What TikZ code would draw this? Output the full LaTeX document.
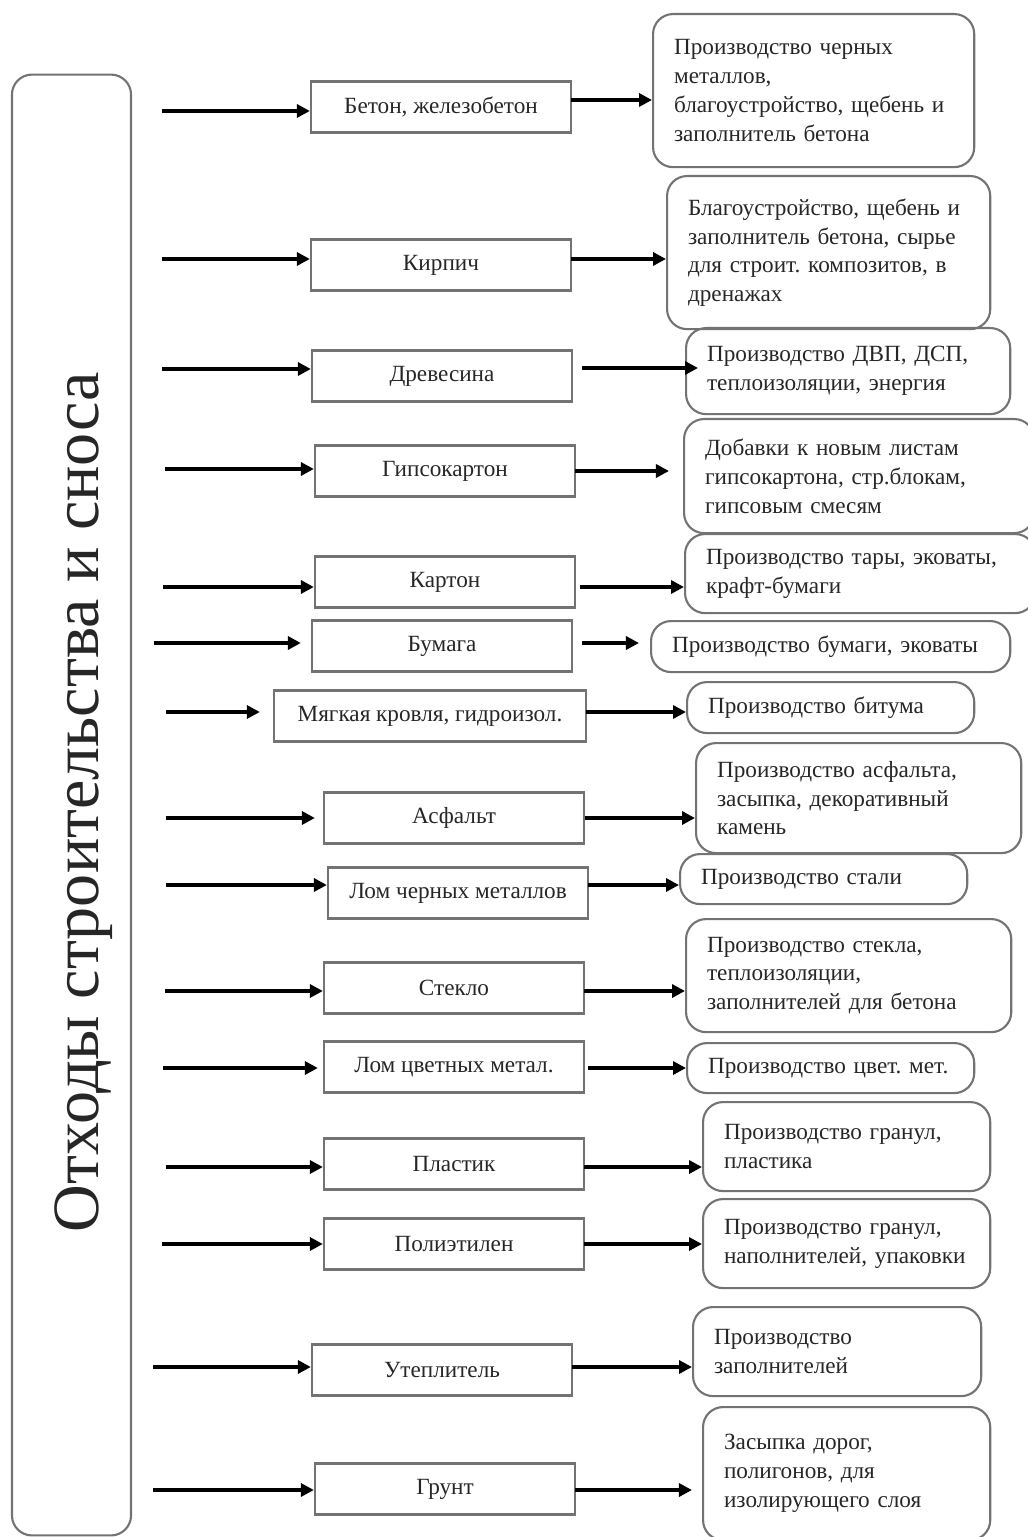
\documentclass[tikz,border=0pt]{standalone}
\usepackage{fontspec}
\setmainfont{Liberation Serif}
\usetikzlibrary{arrows.meta}
\frenchspacing

\begin{document}
\begin{tikzpicture}[x=0.01cm,y=-0.01cm,
    waste/.style={draw=black!55, line width=0.6pt, inner sep=0pt, minimum width=2.6cm, minimum height=0.51cm, text=black!85, font=\fontsize{6.6}{8.2}\selectfont},
    reuse/.style={draw=black!55, line width=0.6pt, rounded corners=0.2cm, anchor=north west, align=left, inner xsep=0.21cm, inner ysep=0pt, text=black!85, font=\fontsize{6.6}{8.2}\selectfont},
    arr/.style={line width=1pt, -{Triangle[length=0.13cm,width=0.13cm]}}]
    \useasboundingbox (0,0) rectangle (1028,1537);
    % Source column
    \node[draw=black!55, line width=0.6pt, rounded corners=0.2cm, minimum width=1.19cm, minimum height=14.6cm] (src) at (71.5,805) {};
    \node[rotate=90, anchor=base, text=black!85, font=\fontsize{18.8}{22}\selectfont] (ttl) at (98,802) {Отходы строительства и сноса};
    % Waste kinds
    \node[waste] (m1) at (441,107) {Бетон, железобетон};
    \node[waste] (m2) at (441,265) {Кирпич};
    \node[waste] (m3) at (442,376) {Древесина};
    \node[waste] (m4) at (445,471) {Гипсокартон};
    \node[waste] (m5) at (445,582) {Картон};
    \node[waste] (m6) at (442,646) {Бумага};
    \node[waste, minimum width=3.12cm] (m7) at (430,716) {Мягкая кровля, гидроизол.};
    \node[waste] (m8) at (454,818) {Асфальт};
    \node[waste] (m9) at (458,893) {Лом черных металлов};
    \node[waste] (m10) at (454,988) {Стекло};
    \node[waste] (m11) at (454,1067) {Лом цветных метал.};
    \node[waste] (m12) at (454,1164) {Пластик};
    \node[waste] (m13) at (454,1244) {Полиэтилен};
    \node[waste] (m14) at (442,1370) {Утеплитель};
    \node[waste] (m15) at (445,1489) {Грунт};
    % Ways of reuse
    \node[reuse, text width=2.79cm, minimum height=1.53cm] (r1) at (652,13) {Производство черных\\металлов,\\благоустройство, щебень и\\заполнитель бетона};
    \node[reuse, text width=2.81cm, minimum height=1.53cm] (r2) at (666,175) {Благоустройство, щебень и\\заполнитель бетона, сырье\\для строит. композитов, в\\дренажах};
    \node[reuse, text width=2.82cm, minimum height=0.86cm] (r3) at (685,327) {Производство ДВП, ДСП,\\теплоизоляции, энергия};
    \node[reuse, text width=3.08cm, minimum height=1.14cm] (r4) at (683,418) {Добавки к новым листам\\гипсокартона, стр.блокам,\\гипсовым смесям};
    \node[reuse, text width=3.08cm, minimum height=0.79cm] (r5) at (684,533) {Производство тары, эковаты,\\крафт-бумаги};
    \node[reuse, text width=3.17cm, minimum height=0.51cm] (r6) at (650,620) {Производство бумаги, эковаты};
    \node[reuse, text width=2.45cm, minimum height=0.51cm] (r7) at (686,681) {Производство битума};
    \node[reuse, text width=2.83cm, minimum height=1.1cm] (r8) at (695,742) {Производство асфальта,\\засыпка, декоративный\\камень};
    \node[reuse, text width=2.45cm, minimum height=0.5cm] (r9) at (679,853) {Производство стали};
    \node[reuse, text width=2.83cm, minimum height=1.13cm] (r10) at (685,918) {Производство стекла,\\теплоизоляции,\\заполнителей для бетона};
    \node[reuse, text width=2.45cm, minimum height=0.5cm] (r11) at (686,1042) {Производство цвет. мет.};
    \node[reuse, text width=2.45cm, minimum height=0.89cm] (r12) at (702,1101) {Производство гранул,\\пластика};
    \node[reuse, text width=2.45cm, minimum height=0.89cm] (r13) at (702,1198) {Производство гранул,\\наполнителей, упаковки};
    \node[reuse, text width=2.46cm, minimum height=0.89cm] (r14) at (692,1306) {Производство\\заполнителей};
    \node[reuse, text width=2.45cm, minimum height=1.33cm] (r15) at (702,1406) {Засыпка дорог,\\полигонов, для\\изолирующего слоя};
    % Arrow starts
    \coordinate (i1) at (162,111);  \coordinate (o1) at (571,100);
    \coordinate (i2) at (162,259);  \coordinate (o2) at (571,259);
    \coordinate (i3) at (162,369);  \coordinate (o3) at (582,368);
    \coordinate (i4) at (165,469);  \coordinate (o4) at (575,471);
    \coordinate (i5) at (163,587);  \coordinate (o5) at (580,587);
    \coordinate (i6) at (154,643);  \coordinate (o6) at (582,643);
    \coordinate (i7) at (166,712);  \coordinate (o7) at (586,712);
    \coordinate (i8) at (166,818);  \coordinate (o8) at (585,818);
    \coordinate (i9) at (166,885);  \coordinate (o9) at (588,885);
    \coordinate (i10) at (165,991); \coordinate (o10) at (584,991);
    \coordinate (i11) at (163,1068); \coordinate (o11) at (588,1068);
    \coordinate (i12) at (166,1167); \coordinate (o12) at (584,1167);
    \coordinate (i13) at (162,1244); \coordinate (o13) at (584,1244);
    \coordinate (i14) at (153,1367); \coordinate (o14) at (572,1367);
    \coordinate (i15) at (153,1490); \coordinate (o15) at (575,1490);
    % Arrows into waste kinds
    \draw[arr] (i1) -- (i1 -| m1.west);
    \draw[arr] (i2) -- (i2 -| m2.west);
    \draw[arr] (i3) -- (i3 -| m3.west);
    \draw[arr] (i4) -- (i4 -| m4.west);
    \draw[arr] (i5) -- (i5 -| m5.west);
    \draw[arr, shorten >=0.1cm] (i6) -- (i6 -| m6.west);
    \draw[arr, shorten >=0.13cm] (i7) -- (i7 -| m7.west);
    \draw[arr, shorten >=0.08cm] (i8) -- (i8 -| m8.west);
    \draw[arr] (i9) -- (i9 -| m9.west);
    \draw[arr] (i10) -- (i10 -| m10.west);
    \draw[arr, shorten >=0.05cm] (i11) -- (i11 -| m11.west);
    \draw[arr] (i12) -- (i12 -| m12.west);
    \draw[arr] (i13) -- (i13 -| m13.west);
    \draw[arr] (i14) -- (i14 -| m14.west);
    \draw[arr] (i15) -- (i15 -| m15.west);
    % Arrows to reuse
    \draw[arr] (o1) -- (o1 -| r1.west);
    \draw[arr] (o2) -- (o2 -| r2.west);
    \draw[arr, shorten >=-0.13cm] (o3) -- (o3 -| r3.west);
    \draw[arr, shorten >=0.14cm] (o4) -- (o4 -| r4.west);
    \draw[arr] (o5) -- (o5 -| r5.west);
    \draw[arr, shorten >=0.11cm] (o6) -- (o6 -| r6.west);
    \draw[arr] (o7) -- (o7 -| r7.west);
    \draw[arr] (o8) -- (o8 -| r8.west);
    \draw[arr] (o9) -- (o9 -| r9.west);
    \draw[arr] (o10) -- (o10 -| r10.west);
    \draw[arr] (o11) -- (o11 -| r11.west);
    \draw[arr] (o12) -- (o12 -| r12.west);
    \draw[arr] (o13) -- (o13 -| r13.west);
    \draw[arr] (o14) -- (o14 -| r14.west);
    \draw[arr, shorten >=0.1cm] (o15) -- (o15 -| r15.west);
\end{tikzpicture}
\end{document}
